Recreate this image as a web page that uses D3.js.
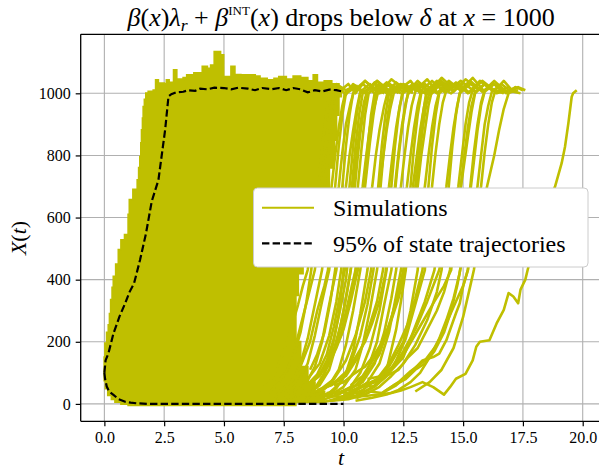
<!DOCTYPE html>
<html><head><meta charset="utf-8">
<script src="https://cdn.jsdelivr.net/npm/d3@7"></script>
<style>
body{margin:0;background:#fff}
svg{display:block}
text{fill:#000;white-space:pre}
.sf{font-family:'Liberation Serif'}
</style>
</head><body>
<svg id="c" width="599" height="469"></svg>
<script>
// ---------- data ----------
const xTicks = [0, 2.5, 5, 7.5, 10, 12.5, 15, 17.5, 20];
const xTickLabels = ["0.0","2.5","5.0","7.5","10.0","12.5","15.0","17.5","20.0"];
const yTicks = [0, 200, 400, 600, 800, 1000];
const yTickLabels = ["0","200","400","600","800","1000"];
const xDomain = [-0.99, 20.79];
const yDomain = [-56, 1190];

const massOutline = [
 [0,100],[0,150],[0.03,195],[0.1,230],[0.17,254],[0.22,290],[0.27,335],[0.33,375],[0.38,410],[0.48,450],[0.59,496],[0.7,528],[0.85,545],[1.0,560],[1.0,610],[1.05,657],[1.2,690],[1.38,721],[1.44,760],[1.49,796],[1.53,840],[1.56,882],[1.6,920],[1.63,957],[1.68,980],[1.74,1000],
 [1.84,1006],[2.05,1010],[2.15,1043],[2.25,1032],[2.5,1030],[2.6,1043],[2.7,1035],[2.9,1075],[3.02,1045],[3.3,1050],[3.45,1059],[3.75,1065],[4.1,1086],[4.3,1080],[4.45,1090],[4.6,1134],[4.85,1123],[4.98,1053],[5.3,1086],[5.45,1060],[5.7,1059],[6.3,1055],[6.5,1048],[6.8,1043],[7.1,1048],[7.3,1053],[7.6,1045],[7.9,1055],[8.2,1050],[8.5,1040],[8.74,1059],[8.9,1035],[9.2,1040],[9.5,1030],[9.8,1020],
 [9.9,990],[9.8,930],[9.7,850],[9.6,760],[9.4,690],[9.0,560],[8.6,470],[8.3,420],[8.1,350],[8.0,280],[8.0,200],[8.2,120],[8.5,70],[8.8,40],[9.2,20],[9.2,5],
 [8.0,-4],[1.5,-4],[1.0,0],[0.7,6],[0.45,15],[0.3,28],[0.15,50],[0.05,75],[0,100]
];

const simRuns = [
 [[6.5,40],[6.9,70],[7.2,110],[7.5,170],[7.8,240],[8.1,320],[8.3,380],[8.5,431],[8.7,520],[8.85,610],[9.0,700],[9.15,790],[9.3,870],[9.45,940],[9.6,1000],[9.8,1020],[10.1,995],[10.4,1030],[10.7,1010],[11.0,1000]],
 [[6.8,30],[7.2,60],[7.6,100],[7.9,160],[8.2,250],[8.5,340],[8.8,431],[8.95,540],[9.1,640],[9.2,700],[9.35,800],[9.5,880],[9.65,950],[9.8,1005],[10.2,1030],[10.5,1000],[10.9,1040],[11.3,1015],[11.6,1000]],
 [[7.0,20],[7.5,45],[7.9,80],[8.2,130],[8.5,210],[8.8,320],[9.1,431],[9.25,540],[9.4,640],[9.5,700],[9.65,800],[9.8,890],[9.95,960],[10.1,1010],[10.5,1025],[10.9,1000],[11.3,1035],[11.7,1010],[12.1,1000]],
 [[7.2,15],[7.7,35],[8.1,70],[8.5,130],[8.8,220],[9.1,330],[9.4,431],[9.55,550],[9.7,650],[9.8,700],[9.95,810],[10.1,900],[10.3,970],[10.45,1010],[10.9,1040],[11.3,1010],[11.8,1030],[12.3,1000]],
 [[7.5,20],[8.0,30],[8.4,60],[8.8,120],[9.1,200],[9.4,320],[9.7,431],[9.85,560],[10.0,660],[10.1,700],[10.25,800],[10.4,880],[10.55,950],[10.7,1005],[11.1,1030],[11.5,1000],[12.0,1045],[12.5,1015],[12.8,1005]],
 [[7.8,10],[8.3,25],[8.8,50],[9.2,100],[9.5,170],[9.8,290],[10.0,431],[10.15,560],[10.3,650],[10.4,700],[10.55,810],[10.7,900],[10.85,970],[11.0,1010],[11.4,1040],[11.9,1010],[12.4,1030],[12.9,1000]],
 [[8.0,20],[8.6,35],[9.0,60],[9.4,110],[9.7,190],[10.0,300],[10.3,431],[10.5,560],[10.65,640],[10.8,700],[10.95,800],[11.1,890],[11.3,960],[11.45,1005],[11.9,1030],[12.3,1010],[12.8,1040],[13.2,1000]],
 [[8.3,10],[8.9,30],[9.4,60],[9.8,110],[10.1,190],[10.4,300],[10.7,431],[10.85,540],[11.0,630],[11.2,700],[11.35,800],[11.5,880],[11.7,960],[11.85,1005],[12.2,1035],[12.7,1005],[13.2,1030],[13.6,1000]],
 [[8.6,15],[9.2,25],[9.7,50],[10.1,100],[10.4,170],[10.7,290],[11.0,431],[11.15,540],[11.3,630],[11.5,700],[11.65,790],[11.8,880],[11.95,950],[12.1,1000],[12.5,1030],[13.0,1010],[13.5,1045],[13.9,1005]],
 [[8.8,20],[9.5,30],[10.0,55],[10.5,110],[10.8,190],[11.1,300],[11.4,431],[11.55,540],[11.7,630],[11.9,700],[12.05,800],[12.2,890],[12.35,960],[12.5,1005],[12.9,1030],[13.4,1000],[13.9,1040],[14.4,1010]],
 [[9.2,15],[9.8,30],[10.3,55],[10.7,100],[11.1,180],[11.5,300],[11.8,431],[11.95,560],[12.05,640],[12.15,700],[12.3,810],[12.45,900],[12.6,970],[12.75,1010],[13.1,1040],[13.6,1005],[14.1,1050],[14.6,1015]],
 [[9.4,10],[10.0,25],[10.6,50],[11.0,110],[11.4,200],[11.7,320],[12.0,431],[12.15,560],[12.3,650],[12.4,700],[12.55,800],[12.7,890],[12.85,960],[13.0,1005],[13.4,1030],[13.9,1000],[14.4,1035],[14.9,1010]],
 [[9.6,30],[10.2,45],[10.8,70],[11.3,130],[11.7,230],[12.0,340],[12.2,431],[12.35,540],[12.5,630],[12.65,700],[12.8,800],[12.95,890],[13.1,960],[13.25,1010],[13.7,1040],[14.2,1005],[14.8,1030],[15.3,1000]],
 [[9.8,20],[10.5,40],[11.0,70],[11.5,130],[11.9,230],[12.2,350],[12.4,431],[12.55,530],[12.7,620],[12.9,700],[13.05,790],[13.2,880],[13.35,950],[13.5,1005],[13.9,1035],[14.4,1010],[14.9,1040],[15.5,1005]],
 [[10.0,15],[10.7,30],[11.3,60],[11.8,110],[12.2,240],[12.4,330],[12.6,431],[12.75,540],[12.9,630],[13.1,700],[13.25,800],[13.4,880],[13.55,960],[13.7,1010],[14.1,1040],[14.6,1005],[15.1,1045],[15.7,1010]],
 [[10.2,40],[10.8,55],[11.4,80],[11.9,120],[12.5,200],[12.8,300],[13.1,431],[13.2,550],[13.3,640],[13.4,700],[13.55,800],[13.7,890],[13.85,960],[14.0,1005],[14.4,1040],[14.9,1010],[15.4,1050],[15.9,1005]],
 [[10.5,30],[11.2,50],[11.8,90],[12.2,140],[12.6,210],[13.0,320],[13.4,431],[13.5,550],[13.6,640],[13.7,700],[13.85,810],[14.0,900],[14.15,970],[14.3,1010],[14.7,1035],[15.2,1000],[15.7,1040],[16.2,1010]],
 [[10.6,50],[11.3,70],[11.9,100],[12.5,150],[12.9,230],[13.4,330],[13.8,431],[13.95,530],[14.1,620],[14.3,700],[14.45,800],[14.6,890],[14.75,960],[14.9,1010],[15.3,1040],[15.8,1005],[16.3,1030],[16.7,1000]],
 [[10.8,60],[11.5,80],[12.1,120],[12.5,170],[13.0,240],[13.5,330],[14.0,431],[14.25,520],[14.5,610],[14.8,700],[14.95,800],[15.1,900],[15.25,970],[15.4,1010],[15.8,1040],[16.3,1010],[16.7,1000]],
 [[11.0,80],[11.6,90],[12.2,130],[12.6,170],[13.2,250],[13.8,330],[14.2,380],[14.5,431],[14.65,540],[14.75,630],[14.9,700],[15.05,800],[15.2,890],[15.35,960],[15.5,1005],[15.9,1030],[16.4,1000],[16.8,1010]],
 [[11.5,30],[12.2,60],[12.8,100],[13.3,140],[13.75,151],[14.0,162],[14.3,205],[14.7,292],[14.86,324],[15.0,378],[15.2,432],[15.35,550],[15.5,640],[15.6,700],[15.75,800],[15.9,900],[16.05,960],[16.2,1005],[16.6,1030],[17.0,1005],[17.3,1020],[17.6,1010]],
 [[11.7,40],[12.3,70],[12.8,105],[13.4,140],[13.9,190],[14.3,260],[14.7,330],[15.0,380],[15.2,431],[15.35,540],[15.55,640],[15.75,700],[15.9,810],[16.05,900],[16.2,970],[16.35,1010],[16.7,1040],[17.1,1005],[17.4,1000]],
 [[8.5,30],[9.5,25],[10.0,22],[11.0,26],[12.0,35],[12.4,43],[12.8,54],[13.3,70],[13.75,54],[14.2,30],[14.45,54],[14.7,81],[15.1,97],[15.4,140],[15.55,184],[15.7,200],[16.1,205],[16.4,259],[16.7,303],[16.9,357],[17.1,346],[17.3,324],[17.4,368],[17.6,400],[17.7,432],[18.0,520],[18.4,620],[18.84,699],[19.12,775],[19.26,828],[19.4,903],[19.54,989],[19.6,1000],[19.75,1010]],
 [[7.0,60],[7.5,90],[7.9,150],[8.2,230],[8.45,330],[8.65,431],[8.8,560],[8.95,700],[9.1,820],[9.25,920],[9.4,1000],[9.7,1030],[10.2,1005],[10.6,1025]],
 [[7.3,40],[7.8,70],[8.2,120],[8.6,200],[8.9,300],[9.2,380],[9.35,431],[9.5,560],[9.65,700],[9.8,830],[9.95,930],[10.1,1000],[10.5,1020],[11.0,1000]],
 [[7.6,10],[8.2,20],[8.7,40],[9.1,80],[9.5,150],[9.9,260],[10.15,360],[10.3,431],[10.45,560],[10.6,700],[10.75,820],[10.9,930],[11.05,1000],[11.5,1030],[12.0,1005]],
 [[8.0,50],[8.5,80],[9.0,130],[9.4,220],[9.7,330],[9.9,431],[10.05,560],[10.25,700],[10.4,830],[10.55,930],[10.7,1000],[11.2,1020],[11.7,1000]],
 [[8.2,5],[8.8,15],[9.4,35],[9.9,70],[10.3,130],[10.7,220],[11.0,320],[11.25,431],[11.4,560],[11.55,700],[11.7,830],[11.85,930],[12.0,1000],[12.4,1025],[12.9,1005]],
 [[8.5,60],[9.0,90],[9.5,150],[9.9,230],[10.2,330],[10.5,431],[10.65,560],[10.85,700],[11.0,820],[11.15,930],[11.3,1000],[11.8,1035],[12.3,1010]],
 [[8.9,45],[9.5,60],[10.1,90],[10.6,150],[11.0,230],[11.4,330],[11.65,431],[11.8,560],[12.0,700],[12.15,830],[12.3,930],[12.45,1000],[12.9,1020],[13.3,1000]],
 [[9.0,5],[9.6,12],[10.2,25],[10.8,45],[11.4,80],[11.9,130],[12.3,190],[12.7,260],[13.0,340],[13.3,431],[13.45,560],[13.55,700],[13.7,830],[13.85,930],[14.0,1000],[14.5,1030],[15.0,1005]],
 [[9.3,35],[9.9,40],[10.5,60],[11.0,100],[11.5,160],[11.9,250],[12.3,360],[12.5,431],[12.65,560],[12.8,700],[12.95,830],[13.1,930],[13.25,1000],[13.8,1030],[14.3,1005]],
 [[9.5,10],[10.2,15],[10.9,30],[11.5,55],[12.0,90],[12.5,130],[13.0,190],[13.5,270],[13.9,360],[14.1,431],[14.25,560],[14.4,700],[14.55,830],[14.7,930],[14.85,1000],[15.3,1030],[15.9,1005]],
 [[8.4,25],[9.0,45],[9.6,80],[10.1,140],[10.5,220],[10.9,330],[11.15,431],[11.3,560],[11.45,700],[11.6,830],[11.75,930],[11.9,1000],[12.3,1025],[12.8,1000]],
 [[7.9,35],[8.4,55],[8.9,95],[9.3,160],[9.6,250],[9.85,350],[10.05,431],[10.2,560],[10.35,700],[10.5,830],[10.65,930],[10.8,1000],[11.3,1030],[11.8,1000]],
 [[13.0,40],[13.6,70],[14.1,110],[14.6,180],[15.0,280],[15.3,380],[15.45,431],[15.7,560],[16.0,700],[16.3,800],[16.5,880],[16.7,950],[16.9,1000],[17.2,1020],[17.5,1010]],
 [[8.7,70],[9.0,95],[9.3,140],[9.6,210],[9.85,300],[10.1,400],[10.2,470],[10.35,600],[10.5,720],[10.6,800],[10.7,870],[10.85,950],[11.0,1010],[11.4,1040],[11.9,1005],[12.2,1020]],
 [[9.0,100],[9.3,115],[9.6,170],[9.9,220],[10.2,310],[10.45,400],[10.6,480],[10.75,600],[10.9,720],[11.05,830],[11.2,920],[11.35,1000],[11.8,1030],[12.4,1000]],
 [[9.2,50],[9.7,75],[10.2,110],[10.5,150],[10.9,200],[11.2,260],[11.5,330],[11.75,420],[11.9,500],[12.1,640],[12.25,760],[12.4,860],[12.55,940],[12.7,1005],[13.1,1030],[13.7,1000],[14.1,1035]],
 [[9.6,60],[10.0,70],[10.4,95],[10.9,120],[11.3,160],[11.7,210],[12.0,270],[12.3,340],[12.55,420],[12.75,520],[12.95,650],[13.15,780],[13.3,880],[13.45,960],[13.6,1005],[14.0,1040],[14.6,1010],[15.0,1030]],
 [[9.0,25],[9.6,40],[10.2,35],[10.8,60],[11.3,55],[11.8,90],[12.3,110],[12.7,150],[13.1,180],[13.5,240],[13.9,300],[14.2,360],[14.45,431],[14.6,520],[14.8,640],[15.0,750],[15.2,860],[15.35,940],[15.5,1000],[15.9,1030],[16.4,1005],[16.9,1020]],
 [[10.0,30],[10.6,20],[11.1,40],[11.6,35],[12.1,60],[12.6,80],[13.0,110],[13.4,130],[13.8,170],[14.2,230],[14.5,300],[14.75,380],[14.9,440],[15.1,560],[15.3,700],[15.45,810],[15.6,900],[15.75,970],[15.9,1010],[16.3,1040],[16.8,1005],[17.2,1020]],
 [[8.6,110],[8.9,160],[9.2,230],[9.45,330],[9.65,431],[9.8,560],[9.95,700],[10.1,830],[10.25,930],[10.4,1000],[10.8,1030],[11.3,1000]],
 [[9.4,130],[9.7,180],[10.0,240],[10.3,330],[10.6,431],[10.75,560],[10.9,700],[11.1,840],[11.25,930],[11.4,1000],[11.9,1030],[12.5,1005]],
 [[10.3,60],[10.8,90],[11.3,150],[11.7,210],[12.1,300],[12.4,380],[12.6,450],[12.8,580],[13.0,700],[13.15,820],[13.3,920],[13.45,1000],[13.9,1025],[14.5,1000],[14.9,1030]],
 [[10.5,10],[11.2,20],[11.8,30],[12.3,45],[12.8,70],[13.2,100],[13.6,150],[14.0,210],[14.3,270],[14.6,340],[14.85,420],[15.05,520],[15.25,650],[15.45,780],[15.6,880],[15.75,960],[15.9,1005],[16.3,1030],[16.8,1000],[17.3,1010]]
];

const quantUpper = [[0,100],[0.05,140],[0.17,163],[0.38,227],[0.63,281],[0.87,324],[1.05,360],[1.24,388],[1.49,463],[1.74,549],[1.98,652],[2.26,721],[2.54,882],[2.68,990],[2.8,997],[3.0,1003],[3.3,1005],[3.5,1010],[3.8,1008],[4.0,1015],[4.3,1013],[4.6,1018],[5.0,1017],[5.3,1013],[5.6,1018],[6.0,1015],[6.3,1010],[6.6,1017],[7.0,1013],[7.3,1017],[7.6,1010],[7.9,1017],[8.2,1013],[8.5,1003],[8.8,1010],[9.1,1006],[9.4,1012],[9.7,1010],[10.0,1005]];
const quantLower = [[0,100],[0.03,80],[0.1,56],[0.2,40],[0.38,29],[0.6,15],[0.87,7],[1.1,4],[1.35,2],[1.8,0],[10.0,0]];

const simColor = "#bfbf00";
const legendLabels = ["Simulations", "95% of state trajectories"];

// ---------- drawing ----------
const svg = d3.select("#c");
const L = 80.7, R = 601.6, T = 34.3, B = 421.3;
const x = d3.scaleLinear().domain(xDomain).range([L, R]);
const y = d3.scaleLinear().domain(yDomain).range([B, T]);

svg.append("defs").append("clipPath").attr("id","clip")
  .append("rect").attr("x",L).attr("y",T).attr("width",R-L).attr("height",B-T);

const grid = svg.append("g");
grid.selectAll(".gx").data(xTicks).join("line")
  .attr("x1",d=>x(d)).attr("x2",d=>x(d)).attr("y1",T).attr("y2",B)
  .attr("stroke","#b0b0b0").attr("stroke-width",1.1);
grid.selectAll(".gy").data(yTicks).join("line")
  .attr("y1",d=>y(d)).attr("y2",d=>y(d)).attr("x1",L).attr("x2",R)
  .attr("stroke","#b0b0b0").attr("stroke-width",1.1);

const plot = svg.append("g").attr("clip-path","url(#clip)");
const stepLine = d3.line().x(d=>x(d[0])).y(d=>y(d[1])).curve(d3.curveStepAfter);
const runLine = d3.line().x(d=>x(d[0])).y(d=>y(d[1])).curve(d3.curveLinear);

plot.append("path").datum(massOutline)
  .attr("d", stepLine)
  .attr("fill", simColor).attr("stroke", simColor).attr("stroke-width", 2);

plot.selectAll(".run").data(simRuns).join("path")
  .attr("d", runLine)
  .attr("fill","none").attr("stroke",simColor).attr("stroke-width",2.6)
  .attr("stroke-linejoin","round");

const qLine = d3.line().x(d=>x(d[0])).y(d=>y(d[1])).curve(d3.curveLinear);
plot.append("path").datum(quantUpper).attr("d", qLine)
  .attr("fill","none").attr("stroke","#000").attr("stroke-width",2.2).attr("stroke-dasharray","7.4,3.2");
plot.append("path").datum(quantLower).attr("d", qLine)
  .attr("fill","none").attr("stroke","#000").attr("stroke-width",2.2).attr("stroke-dasharray","7.4,3.2");

[[L,L,T,B],[L,R,B,B],[L,R,T,T],[R,R,T,B]].forEach(s=>{
  svg.append("line").attr("x1",s[0]).attr("x2",s[1]).attr("y1",s[2]).attr("y2",s[3])
    .attr("stroke","#000").attr("stroke-width",1.3);
});

const xAxis = d3.axisBottom(x).tickValues(xTicks).tickFormat((d,i)=>xTickLabels[i]).tickSize(5).tickPadding(5);
const yAxis = d3.axisLeft(y).tickValues(yTicks).tickFormat((d,i)=>yTickLabels[i]).tickSize(5).tickPadding(5);
const gx = svg.append("g").attr("transform",`translate(0,${B})`).call(xAxis);
const gy = svg.append("g").attr("transform",`translate(${L},0)`).call(yAxis);
[gx,gy].forEach(g=>{
  g.attr("font-family",null).attr("font-size",null);
  g.select(".domain").remove();
  g.selectAll("line").attr("stroke","#000").attr("stroke-width",1.2);
  g.selectAll("text").attr("class","sf").style("font-size","16px").attr("fill","#000");
});

svg.append("text").attr("class","sf").attr("x",(L+R)/2).attr("y",465).attr("text-anchor","middle")
  .style("font-size","22px").style("font-style","italic").text("t");
const yl = svg.append("text").attr("class","sf").attr("transform",`translate(26,238) rotate(-90)`)
  .attr("text-anchor","middle").style("font-size","22px");
yl.append("tspan").style("font-style","italic").text("X");
yl.append("tspan").text("(");
yl.append("tspan").style("font-style","italic").text("t");
yl.append("tspan").text(")");

const tt = svg.append("text").attr("class","sf").attr("x",(L+R)/2).attr("y",26).attr("text-anchor","middle");
const parts = [
  ["β","i",0,1],["(","n",0,1],["x","i",0,1],[")","n",0,1],["λ","i",0,1],
  ["r","i",4,0.68],[" + ","n",-4,1],["β","i",0,1],["INT","n",-9,0.5],["(","n",9,1],["x","i",0,1],
  [") drops below ","n",0,1],["δ","i",0,1],[" at ","n",0,1],["x","i",0,1],[" = 1000","n",0,1]
];
function drawTitle(fs){
  tt.selectAll("tspan").remove();
  tt.style("font-size",fs+"px");
  parts.forEach(p=>{
    const s = tt.append("tspan").text(p[0]).style("font-size",(fs*p[3])+"px");
    if (p[1]==="i") s.style("font-style","italic");
    if (p[2]) s.attr("dy",p[2]*fs/21);
  });
}
drawTitle(22);
const tw = tt.node().getComputedTextLength();
drawTitle(Math.min(26, 22*447/tw));

const lg = svg.append("g");
lg.append("rect").attr("x",253.5).attr("y",188).attr("width",334.5).attr("height",79)
  .attr("rx",4).attr("fill","#fff").attr("stroke","#cccccc").attr("stroke-width",1);
lg.append("line").attr("x1",262).attr("x2",314).attr("y1",207.7).attr("y2",207.7)
  .attr("stroke",simColor).attr("stroke-width",2);
lg.append("line").attr("x1",262).attr("x2",314).attr("y1",243.3).attr("y2",243.3)
  .attr("stroke","#000").attr("stroke-width",2.2).attr("stroke-dasharray","7.4,3.2");
const l1 = lg.append("text").attr("class","sf").attr("x",333).attr("y",216).style("font-size","21px").text(legendLabels[0]);
const l2 = lg.append("text").attr("class","sf").attr("x",333).attr("y",252).style("font-size","21px").text(legendLabels[1]);
const lw = l2.node().getComputedTextLength();
const lfs = Math.min(24, 21*245/lw);
l1.style("font-size",lfs+"px"); l2.style("font-size",lfs+"px");
</script>
</body></html>
